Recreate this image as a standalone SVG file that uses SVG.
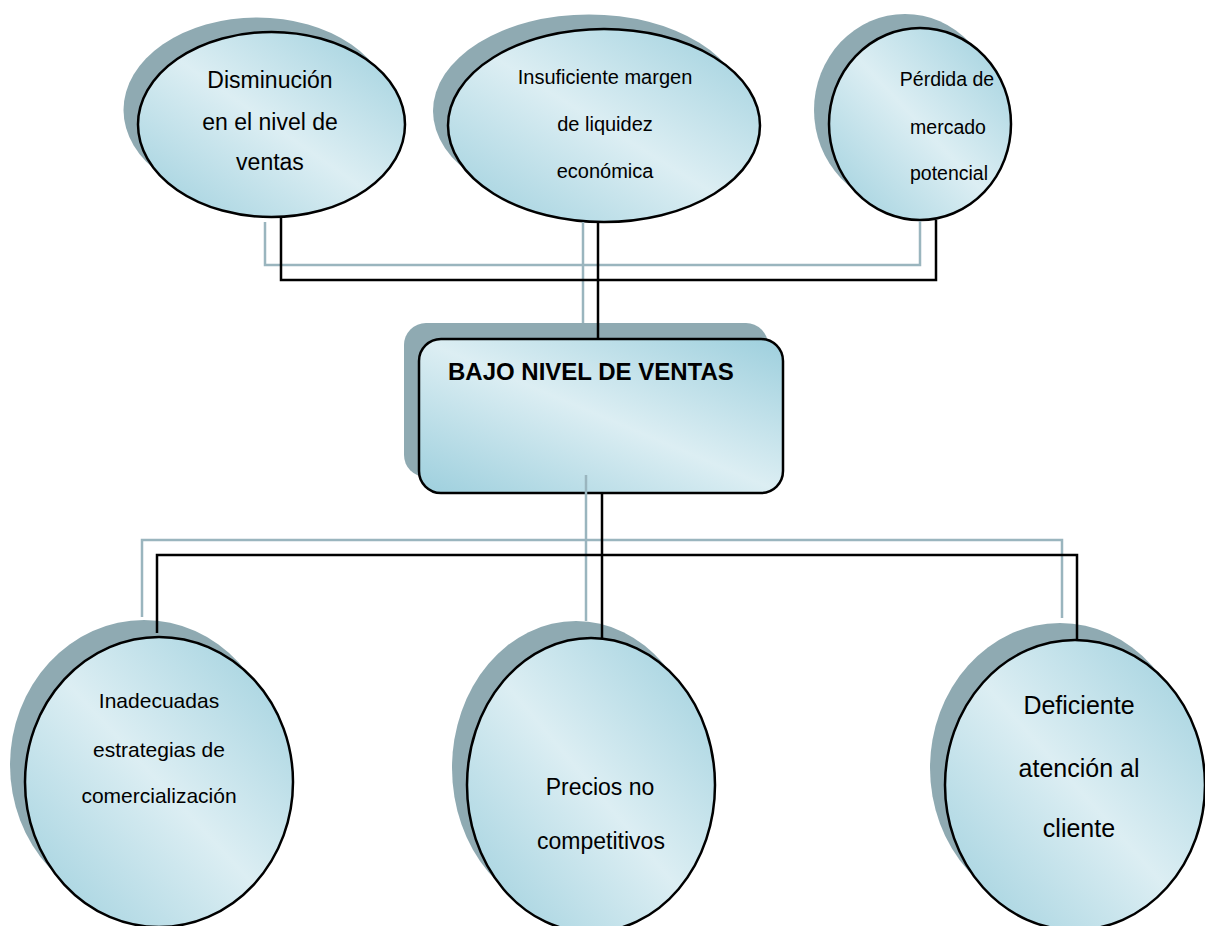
<svg xmlns="http://www.w3.org/2000/svg" width="1205" height="926" viewBox="0 0 1205 926">
<defs>
<linearGradient id="fill" x1="0" y1="1" x2="1" y2="0">
<stop offset="0" stop-color="#9DCFDD"/>
<stop offset="0.5" stop-color="#DCEEF3"/>
<stop offset="1" stop-color="#9DCFDD"/>
</linearGradient>
</defs>
<style>
.sh{fill:#8FAAB2;}
.main{fill:url(#fill);stroke:#000;stroke-width:2.5;}
.t{font-family:"Liberation Sans",Arial,sans-serif;fill:#000;text-anchor:middle;}
.g{stroke:#9AB5BE;stroke-width:2.5;fill:none;}
.k{stroke:#000;stroke-width:2.5;fill:none;}
</style>
<rect width="1205" height="926" fill="#fff"/>

<g id="n-disminucion">
<ellipse class="sh" cx="257" cy="110" rx="133.5" ry="92.5"/>
<ellipse class="main" cx="271.5" cy="124.5" rx="133.5" ry="92.5"/>
<text class="t" font-size="23"><tspan x="270" y="88">Disminución</tspan><tspan x="270" y="130">en el nivel de</tspan><tspan x="270" y="170">ventas</tspan></text>
</g>

<g id="n-insuficiente">
<ellipse class="sh" cx="589" cy="111" rx="156" ry="96.5"/>
<ellipse class="main" cx="604" cy="125.5" rx="156" ry="96.5"/>
<text class="t" font-size="20"><tspan x="605" y="84">Insuficiente margen</tspan><tspan x="605" y="131">de liquidez</tspan><tspan x="605" y="178">económica</tspan></text>
</g>

<g id="n-perdida">
<ellipse class="sh" cx="905" cy="110" rx="91" ry="96"/>
<ellipse class="main" cx="920" cy="124" rx="91" ry="96"/>
<text class="t" font-size="19.5"><tspan x="947" y="86">Pérdida de</tspan><tspan x="948" y="134">mercado</tspan><tspan x="949" y="180">potencial</tspan></text>
</g>

<g id="n-bajo">
<rect class="sh" x="404" y="323" width="364" height="154" rx="22"/>
<rect class="main" x="419" y="339" width="364" height="154" rx="22"/>
<text class="t" font-size="24" font-weight="bold" style="text-anchor:start" x="448" y="380">BAJO NIVEL DE VENTAS</text>
</g>

<g id="n-inadecuadas">
<ellipse class="sh" cx="144" cy="765" rx="134" ry="145"/>
<ellipse class="main" cx="159" cy="782" rx="134" ry="145"/>
<text class="t" font-size="21"><tspan x="159" y="708">Inadecuadas</tspan><tspan x="159" y="757">estrategias de</tspan><tspan x="159" y="803">comercialización</tspan></text>
</g>

<g id="n-precios">
<ellipse class="sh" cx="576" cy="768" rx="124" ry="147"/>
<ellipse class="main" cx="591" cy="785" rx="124" ry="147"/>
<text class="t" font-size="23"><tspan x="600" y="795">Precios no</tspan><tspan x="601" y="849">competitivos</tspan></text>
</g>

<g id="n-deficiente">
<ellipse class="sh" cx="1060" cy="768" rx="130" ry="145"/>
<ellipse class="main" cx="1075" cy="785" rx="130" ry="145"/>
<text class="t" font-size="25"><tspan x="1079" y="714">Deficiente</tspan><tspan x="1079" y="777">atención al</tspan><tspan x="1079" y="837">cliente</tspan></text>
</g>

<g id="connectors">
<path class="g" d="M265,222 V265 H920 V221"/>
<path class="g" d="M583,222 V323"/>
<path class="k" d="M281,217 V280 H936 V220"/>
<path class="k" d="M598,222 V339"/>
<path class="g" d="M586,475 V621"/>
<path class="g" d="M142,617 V540 H1062 V618"/>
<path class="k" d="M602,493 V638"/>
<path class="k" d="M157,633 V555 H1077 V640"/>
</g>
</svg>
